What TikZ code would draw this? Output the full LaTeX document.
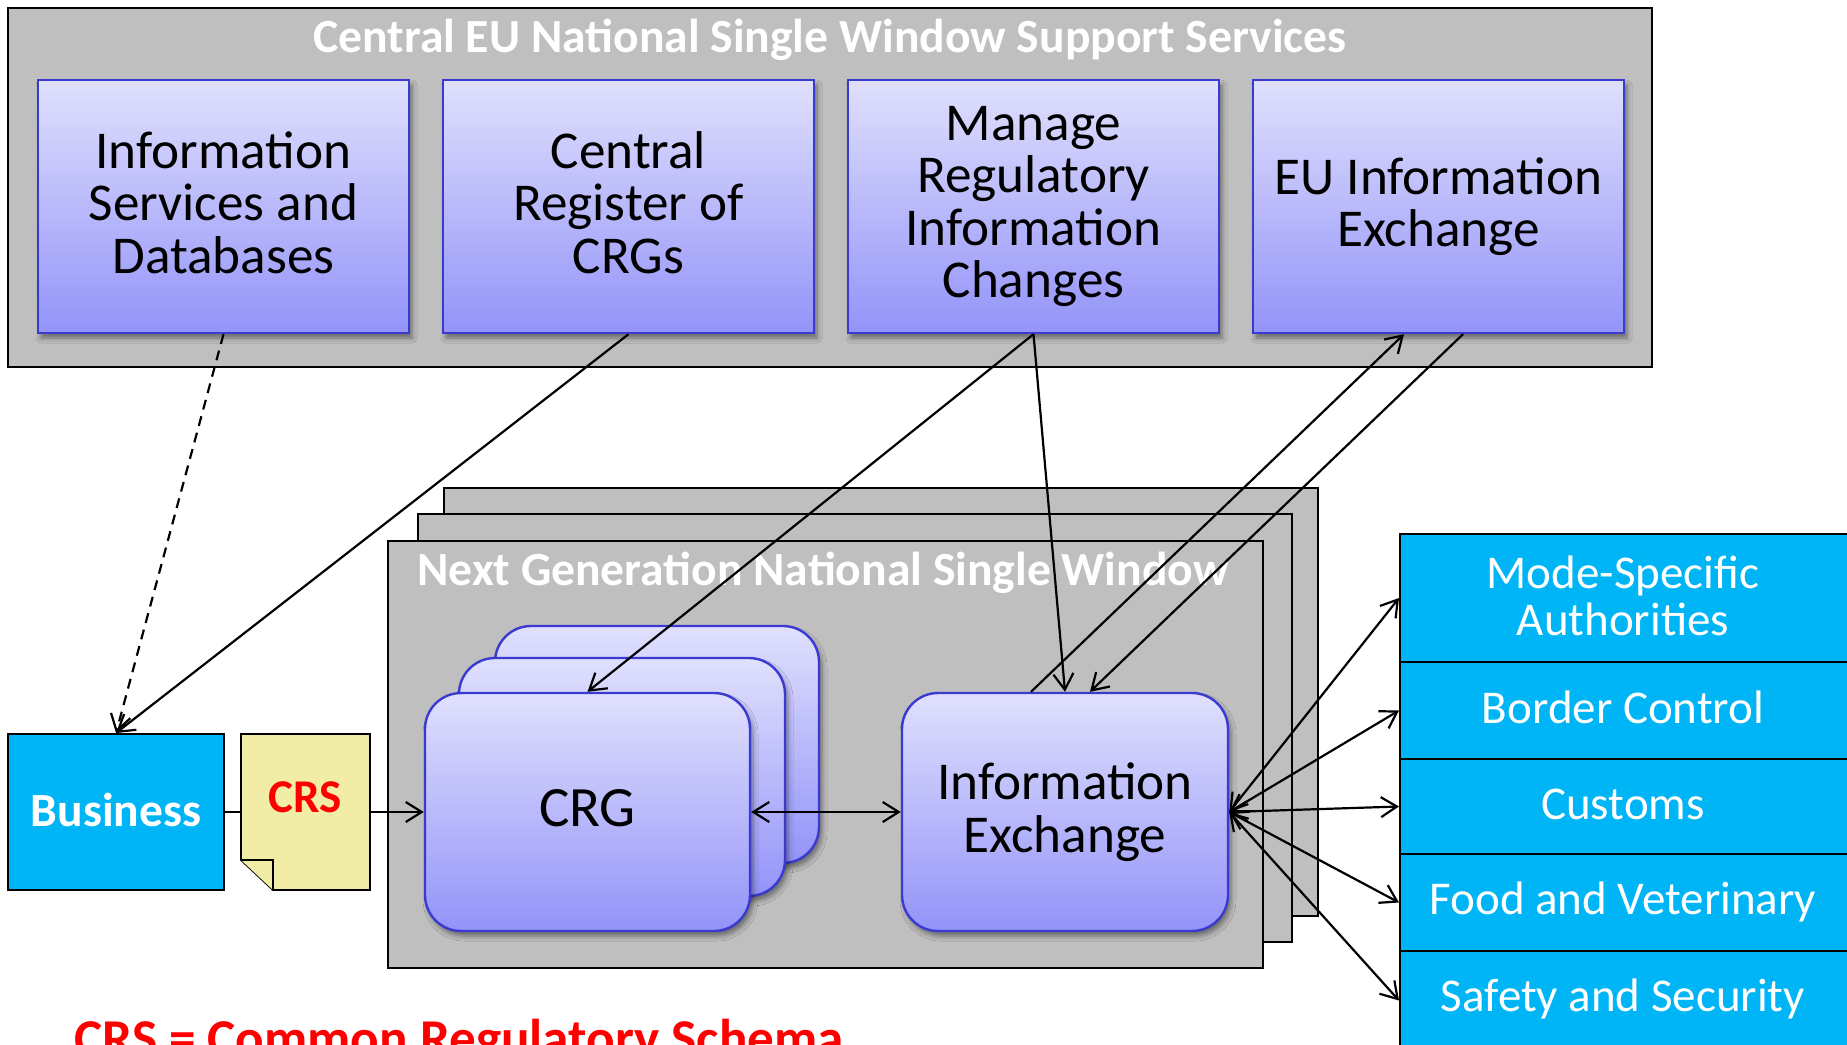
\documentclass[tikz,border=0pt]{standalone}
\usepackage{fontspec}
\setmainfont{Carlito}
\usetikzlibrary{arrows.meta,shadows.blur,fit,calc}
\definecolor{gtop}{HTML}{E0E0FD}
\definecolor{gbot}{HTML}{9393F9}
\definecolor{bedge}{HTML}{3A3AD0}
\definecolor{panel}{HTML}{BFBFBF}
\definecolor{sky}{HTML}{00B5F5}
\definecolor{paper}{HTML}{F1ECA6}
\definecolor{crsred}{HTML}{FF0000}
\begin{document}
\begin{tikzpicture}[x=0.5pt,y=-0.5pt,
  panelbox/.style={draw=black,line width=1pt,fill=panel,inner sep=0pt},
  svcbox/.style={draw=bedge,line width=1.2pt,top color=gtop,bottom color=gbot,inner sep=0pt,
     blur shadow={shadow xshift=1.5pt,shadow yshift=-2.5pt,shadow blur radius=2.5pt,shadow opacity=45}},
  roundbox/.style={svcbox,rounded corners=18pt},
  svctext/.style={inner sep=0pt,align=center,font=\fontsize{26.6}{26.3}\selectfont},
  agency/.style={draw=black,line width=1pt,fill=sky,inner sep=0pt},
  agtext/.style={inner sep=0pt,align=center,text=white,font=\fontsize{23.5}{23.5}\selectfont},
  titletext/.style={text=white,font=\fontsize{23.8}{26}\selectfont\bfseries,inner sep=0pt},
  conn/.style={line width=1.1pt,-{Straight Barb[length=8pt,width=10pt]}},
  dconn/.style={line width=1.1pt,{Straight Barb[length=8pt,width=10pt]}-{Straight Barb[length=8pt,width=10pt]}},
]
\useasboundingbox (0,0) rectangle (1847,1044);

% central EU support services
\node[panelbox, fit={(8,8) (1652,367)}] (central) {};
\node[titletext, anchor=base] (ctitle) at (830,52) {Central EU National Single Window Support Services};
\node[svcbox, fit={(38,80) (409,333)}] (isd) {};
\node[svcbox, fit={(443,80) (814,333)}] (crc) {};
\node[svcbox, fit={(848,80) (1219,333)}] (mri) {};
\node[svcbox, fit={(1253,80) (1624,333)}] (eu) {};
\node[svctext] (isdt) at ($(isd.center)+(0,-4)$) {Information\\Services and\\Databases};
\node[svctext] (crct) at ($(crc.center)+(0,-4)$) {Central\\Register of\\CRGs};
\node[svctext] (mrit) at (mri.center) {Manage\\Regulatory\\Information\\Changes};
\node[svctext] (eut) at (eu.center) {EU Information\\Exchange};

% next generation NSW stack
\node[panelbox, fit={(444,488) (1318,916)}] (nswc) {};
\node[panelbox, fit={(418,514) (1292,942)}] (nswb) {};
\node[panelbox, fit={(388,541) (1263,968)}] (nswa) {};
\node[titletext, anchor=base west] (nswtitle) at (417,585) {Next Generation National Single Window};

\node[roundbox, fit={(495,626) (819,863)}] (crgc) {};
\node[roundbox, fit={(459,658) (785,896)}] (crgb) {};
\node[roundbox, fit={(425,693) (750,931)}] (crg) {};
\node[roundbox, fit={(902,693) (1228,931)}] (ie) {};
\node[svctext, font=\fontsize{28.5}{28}\selectfont] (crgt) at ($(crg.center)+(0,-4)$) {CRG};
\node[svctext] (iet) at (ie.center) {Information\\Exchange};

% authorities
\node[agency, fit={(1400,534) (1850,662)}] (msa) {};
\node[agency, fit={(1400,662) (1850,759)}] (bc) {};
\node[agency, fit={(1400,759) (1850,854)}] (cus) {};
\node[agency, fit={(1400,854) (1850,951)}] (fv) {};
\node[agency, fit={(1400,951) (1850,1050)}] (ss) {};
\node[agtext] (msat) at ($(msa.center)+(-2,-2)$) {Mode-Specific\\Authorities};
\node[agtext] (bct) at ($(bc.center)+(-2,-3)$) {Border Control};
\node[agtext] (cust) at ($(cus.center)+(-2,-2)$) {Customs};
\node[agtext] (fvt) at ($(fv.center)+(-2,-1)$) {Food and Veterinary};
\node[agtext] (sst) at ($(ss.center)+(-2,-2)$) {Safety and Security};

% business and CRS document
\node[agency, fit={(8,734) (224,890)}] (biz) {};
\node[agtext, font=\fontsize{23.8}{24}\selectfont\bfseries] (bizt) at ($(biz.center)+(0,-2)$) {Business};
\path[draw=black,fill=paper,line width=0.9pt] (241,734) -- (241,860) -- (273,890) -- (370,890) -- (370,734) -- cycle;
\path[draw=black,fill=paper,line width=0.9pt] (241,860) -- (273,860) -- (273,890);
\node[inner sep=0pt, fit={(241,734) (370,890)}] (crs) {};
\node[anchor=base, inner sep=0pt, text=crsred, font=\fontsize{23.5}{24}\selectfont\bfseries] (crstext) at (305,812) {CRS};

\node[anchor=base west, inner sep=0pt, text=crsred, font=\fontsize{26.6}{30}\selectfont\bfseries] (legend) at (74,1056) {CRS = Common Regulatory Schema};

% connectors
\draw[conn, dash pattern=on 5pt off 3.5pt] (isd.south) -- (biz.north);
\draw[conn] (crc.south) -- (biz.north);
\draw[conn] (mri.south) -- (crg.north);
\draw[conn] (mri.south) -- (ie.north);
\draw[conn] ($(ie.north)+(-34,0)$) -- ($(eu.south)+(-34.5,0)$);
\draw[conn] ($(eu.south)+(24.5,0)$) -- ($(ie.north)+(25,0)$);
\draw[line width=1.1pt] (biz.east) -- (crs.west);
\draw[conn] (crs.east) -- (crg.west);
\draw[dconn] (crg.east) -- (ie.west);
\foreach \t in {msa,bc,cus,fv,ss} \draw[dconn] (ie.east) -- (\t.west);
\end{tikzpicture}
\end{document}
